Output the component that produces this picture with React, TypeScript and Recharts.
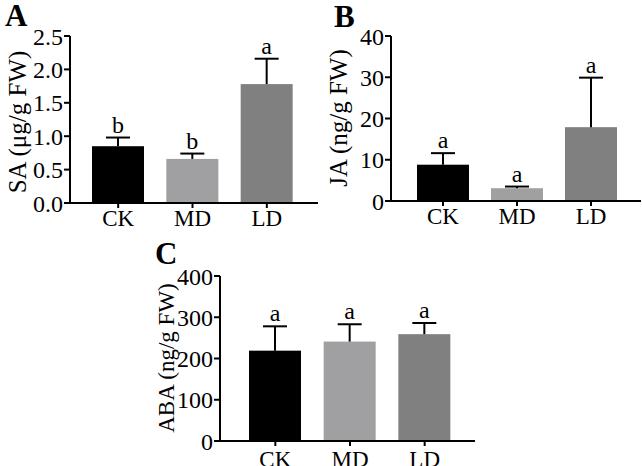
import React from "react";
import { BarChart, Bar, XAxis, YAxis } from "recharts";

const groups = ["CK", "MD", "LD"];
const colors = ["#000000", "#a0a0a2", "#808080"];

const saMean = [0.85, 0.66, 1.78];
const saSd = [0.13, 0.08, 0.38];
const saLetters = ["b", "b", "a"];
const saTicks = [0, 0.5, 1, 1.5, 2, 2.5];

const jaMean = [8.8, 3.1, 17.9];
const jaSd = [2.8, 0.4, 12.0];
const jaLetters = ["a", "a", "a"];
const jaTicks = [0, 10, 20, 30, 40];

const abaMean = [219, 241, 259];
const abaSd = [59, 42, 27];
const abaLetters = ["a", "a", "a"];
const abaTicks = [0, 100, 200, 300, 400];

const FONT = "'Liberation Serif', 'Times New Roman', serif";

type Row = { name: string; value: number; sd: number; letter: string };

function rows(mean: number[], sd: number[], letters: string[]): Row[] {
  return groups.map((name, i) => ({ name, value: mean[i], sd: sd[i], letter: letters[i] }));
}

function BarWithError(props: any) {
  const { x, y, width, height, payload, index } = props;
  const perUnit = height / payload.value;
  const yTop = y - payload.sd * perUnit;
  const cx = x + width / 2;
  return (
    <g>
      <rect x={x} y={y} width={width} height={height} fill={colors[index]} />
      <line x1={cx} y1={y} x2={cx} y2={yTop} stroke="#000" strokeWidth={2} />
      <line x1={cx - 12} y1={yTop} x2={cx + 12} y2={yTop} stroke="#000" strokeWidth={2} />
      <text x={cx} y={yTop - 5} textAnchor="middle" fontSize={24} fontFamily={FONT} fill="#000">
        {payload.letter}
      </text>
    </g>
  );
}

type PanelProps = {
  data: Row[];
  ticks: number[];
  fmt: (v: number) => string;
  label: string;
  labelX: number;
  labelY: number;
  labelSize: number;
  width: number;
  height: number;
  margin: { top: number; right: number; left: number; bottom: number };
  padding: { left: number; right: number };
  xTickMargin: number;
};

function Panel(p: PanelProps) {
  const tickStyle = { fontSize: 24, fontFamily: FONT, fill: "#000" };
  return (
    <BarChart width={p.width} height={p.height} data={p.data} margin={p.margin}>
      <XAxis
        dataKey="name"
        padding={p.padding}
        tick={{ ...tickStyle, fontSize: 23 }}
        tickSize={5}
        tickMargin={p.xTickMargin}
        axisLine={{ stroke: "#000", strokeWidth: 2 }}
        tickLine={{ stroke: "#000", strokeWidth: 2 }}
        height={30}
      />
      <YAxis
        width={70}
        domain={[p.ticks[0], p.ticks[p.ticks.length - 1]]}
        ticks={p.ticks}
        tickFormatter={p.fmt}
        tick={tickStyle}
        tickSize={6}
        tickMargin={1}
        axisLine={{ stroke: "#000", strokeWidth: 2 }}
        tickLine={{ stroke: "#000", strokeWidth: 2 }}
        interval={0}
        label={() => (
          <text
            x={p.labelX}
            y={p.labelY}
            transform={`rotate(-90, ${p.labelX}, ${p.labelY})`}
            textAnchor="middle"
            dominantBaseline="central"
            fontSize={p.labelSize}
            fontFamily={FONT}
            fill="#000"
          >
            {p.label}
          </text>
        )}
      />
      <Bar dataKey="value" barSize={52} shape={BarWithError} isAnimationActive={false} />
    </BarChart>
  );
}

const panelLetter: React.CSSProperties = {
  position: "absolute",
  fontFamily: FONT,
  fontWeight: "bold",
  fontSize: 31,
  lineHeight: 1,
};

export default function App() {
  return (
    <div style={{ position: "absolute", left: 0, top: 0, width: 642, height: 466, background: "#fff", overflow: "hidden" }}>
      <div style={{ position: "absolute", left: 0, top: 0 }}>
        <Panel
          data={rows(saMean, saSd, saLetters)}
          ticks={saTicks}
          fmt={(v) => v.toFixed(1)}
          label="SA (μg/g FW)"
          labelX={17}
          labelY={122}
          labelSize={25}
          width={321}
          height={233}
          margin={{ top: 36, right: 3, left: 0, bottom: 0 }}
          padding={{ left: 11, right: 14 }}
          xTickMargin={2}
        />
      </div>
      <div style={{ position: "absolute", left: 321, top: 0 }}>
        <Panel
          data={rows(jaMean, jaSd, jaLetters)}
          ticks={jaTicks}
          fmt={(v) => String(v)}
          label="JA (ng/g FW)"
          labelX={17}
          labelY={118}
          labelSize={25}
          width={321}
          height={233}
          margin={{ top: 36, right: 1, left: 0, bottom: 2 }}
          padding={{ left: 15, right: 13 }}
          xTickMargin={2}
        />
      </div>
      <div style={{ position: "absolute", left: 150, top: 233 }}>
        <Panel
          data={rows(abaMean, abaSd, abaLetters)}
          ticks={abaTicks}
          fmt={(v) => String(v)}
          label="ABA (ng/g FW)"
          labelX={16}
          labelY={125}
          labelSize={23}
          width={330}
          height={238}
          margin={{ top: 43, right: 5, left: 0, bottom: 0 }}
          padding={{ left: 18, right: 13 }}
          xTickMargin={5}
        />
      </div>
      <div style={{ ...panelLetter, left: 5, top: 0 }}>A</div>
      <div style={{ ...panelLetter, left: 334, top: 1 }}>B</div>
      <div style={{ ...panelLetter, left: 155, top: 238 }}>C</div>
    </div>
  );
}
